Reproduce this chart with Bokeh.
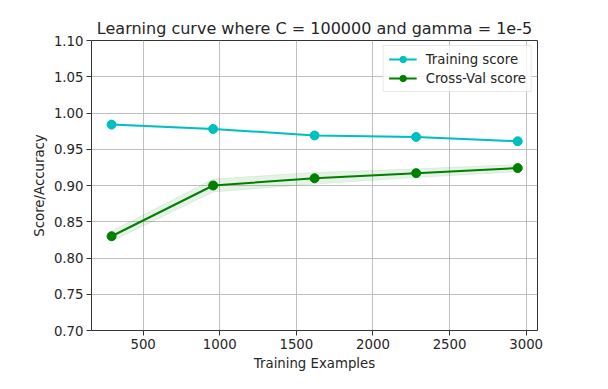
from bokeh.plotting import figure
from bokeh.models import FixedTicker, NumeralTickFormatter, Range1d, Legend, LegendItem
from bokeh.embed import file_html
from bokeh.resources import INLINE

title = "Learning curve where C = 100000 and gamma = 1e-5"
train_sizes = [294, 957, 1619, 2282, 2945]
train_mean = [0.984, 0.978, 0.969, 0.967, 0.961]
train_std = [0.0015, 0.0015, 0.0012, 0.0012, 0.0012]
cv_mean = [0.830, 0.900, 0.910, 0.917, 0.924]
cv_std = [0.007, 0.009, 0.008, 0.006, 0.005]
x_ticks = [500, 1000, 1500, 2000, 2500, 3000]
y_ticks = [0.70, 0.75, 0.80, 0.85, 0.90, 0.95, 1.00, 1.05, 1.10]

FONT = "DejaVu Sans"
TXT = "#262626"
CYAN = "#00bfbf"
GREEN = "#008000"

p = figure(frame_width=446, frame_height=290, output_backend="svg", toolbar_location=None,
           x_range=Range1d(163, 3074), y_range=Range1d(0.70, 1.10),
           min_border_left=91, min_border_right=63, min_border_top=40, min_border_bottom=45,
           background_fill_color="white", border_fill_color="white")

p.title.text = title
p.title.align = "center"
p.title.text_font = FONT
p.title.text_font_size = "16px"
p.title.text_font_style = "normal"
p.title.text_color = TXT
p.title.standoff = 5

tr_lo = [m - s for m, s in zip(train_mean, train_std)]
tr_hi = [m + s for m, s in zip(train_mean, train_std)]
cv_lo = [m - s for m, s in zip(cv_mean, cv_std)]
cv_hi = [m + s for m, s in zip(cv_mean, cv_std)]

p.varea(x=train_sizes, y1=tr_lo, y2=tr_hi, fill_color=CYAN, fill_alpha=0.1)
p.varea(x=train_sizes, y1=cv_lo, y2=cv_hi, fill_color=GREEN, fill_alpha=0.1)
p.line(train_sizes, cv_hi, line_color=GREEN, line_alpha=0.08, line_width=1)
p.line(train_sizes, cv_lo, line_color=GREEN, line_alpha=0.08, line_width=1)

l1 = p.line(train_sizes, train_mean, line_color=CYAN, line_width=2)
s1 = p.scatter(train_sizes, train_mean, size=9, fill_color=CYAN, line_color=CYAN)
l2 = p.line(train_sizes, cv_mean, line_color=GREEN, line_width=2)
s2 = p.scatter(train_sizes, cv_mean, size=9, fill_color=GREEN, line_color=GREEN)

legend = Legend(items=[LegendItem(label="Training score", renderers=[l1, s1]),
                       LegendItem(label="Cross-Val score", renderers=[l2, s2])],
                location="top_right")
legend.label_text_font = FONT
legend.label_text_font_size = "13.3px"
legend.label_text_color = TXT
legend.border_line_color = "#d0d0d0"
legend.border_line_width = 1
legend.background_fill_alpha = 0.8
legend.glyph_width = 28
legend.glyph_height = 16
legend.spacing = 3
legend.padding = 5
legend.margin = 5
legend.label_standoff = 9
legend.label_height = 16
p.add_layout(legend)

p.xaxis.ticker = FixedTicker(ticks=x_ticks)
p.yaxis.ticker = FixedTicker(ticks=y_ticks)
p.yaxis.formatter = NumeralTickFormatter(format="0.00")
p.xaxis.axis_label = "Training Examples"
p.yaxis.axis_label = "Score/Accuracy"

for ax in (p.xaxis, p.yaxis):
    ax.major_label_text_font = FONT
    ax.major_label_text_font_size = "13.3px"
    ax.major_label_text_color = TXT
    ax.axis_label_text_font = FONT
    ax.axis_label_text_font_size = "13.3px"
    ax.axis_label_text_font_style = "normal"
    ax.axis_label_text_color = TXT
    ax.major_tick_in = 0
    ax.major_tick_out = 5
    ax.minor_tick_line_color = None
    ax.major_tick_line_color = "#333333"
    ax.axis_line_color = None
    ax.major_label_standoff = 3
    ax.axis_label_standoff = 4

p.outline_line_color = "#333333"
p.outline_line_width = 1
p.xgrid.ticker = FixedTicker(ticks=x_ticks)
p.ygrid.ticker = FixedTicker(ticks=y_ticks)
p.grid.grid_line_color = "#b0b0b0"
p.grid.grid_line_width = 1
p.grid.grid_line_alpha = 0.8

open("out.html", "w").write(file_html(p, INLINE))
